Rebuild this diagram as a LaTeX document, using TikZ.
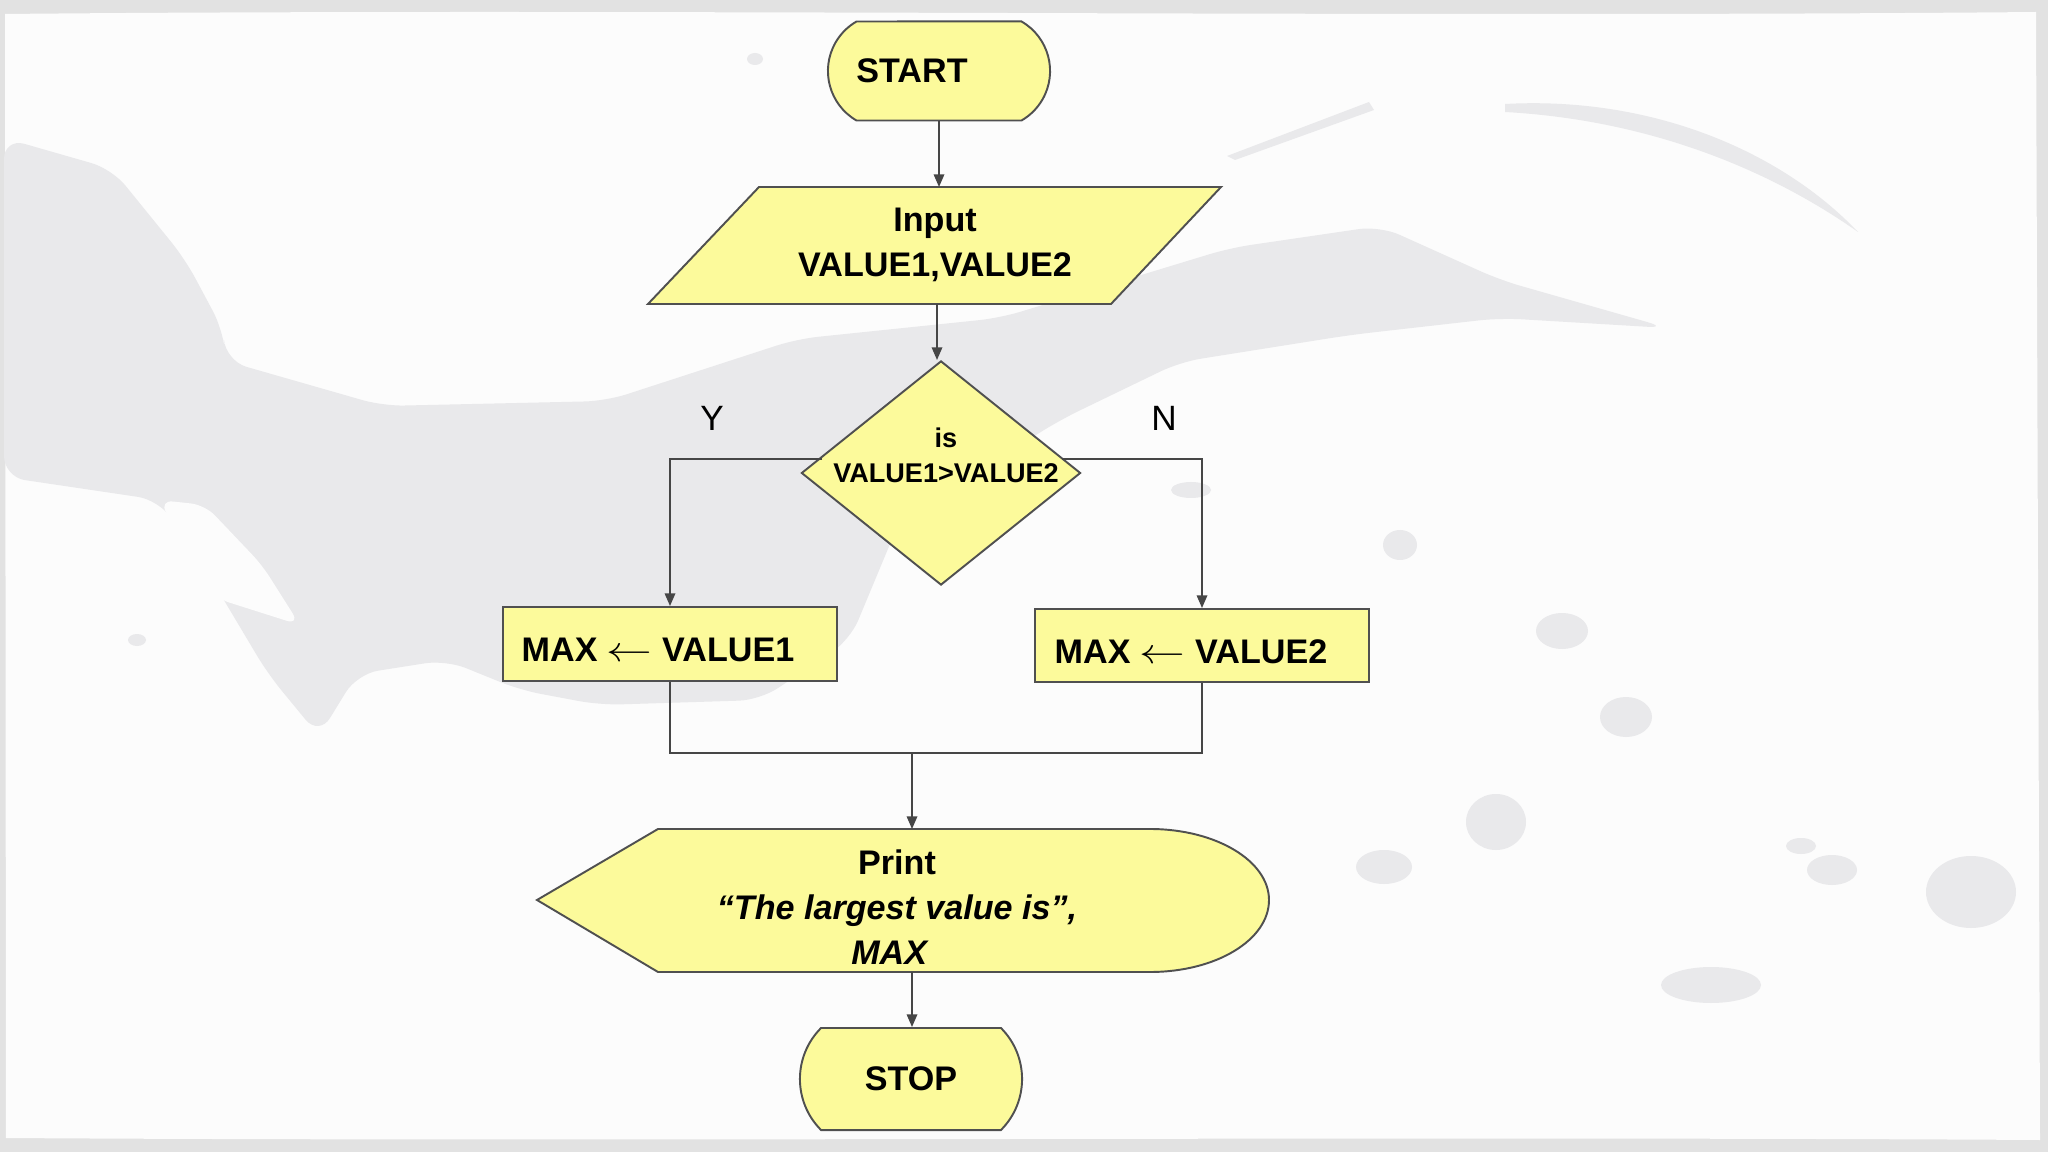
\documentclass[tikz,border=0pt]{standalone}
\usepackage{fontspec}
\usepackage{graphicx}
\setmainfont{Liberation Sans}
\usetikzlibrary{shapes.geometric,shapes.misc,arrows.meta}
\definecolor{fillY}{RGB}{252,250,155}
\definecolor{bord}{RGB}{80,80,80}
\definecolor{lnc}{RGB}{70,70,70}
\definecolor{bgw}{RGB}{252,252,252}
\definecolor{bgg}{RGB}{233,233,235}
\definecolor{frm}{RGB}{226,226,226}
\newcommand{\larr}{\scalebox{1.3}[1]{$\leftarrow$}}
\begin{document}
\begin{tikzpicture}[x=0.01cm,y=-0.01cm,
  shp/.style={draw=bord,fill=fillY,line width=0.55pt},
  term/.style={shp,rounded rectangle,inner sep=0pt},
  proc/.style={shp,rectangle,inner sep=0pt},
  txt/.style={inner sep=0pt,font=\fontsize{9.7}{12.8}\selectfont\bfseries,align=center},
  conn/.style={draw=lnc,line width=0.45pt,-{Triangle[length=3.6pt,width=3pt]}},
  plain/.style={draw=lnc,line width=0.45pt},
  lbl/.style={inner sep=0pt,font=\fontsize{10}{12}\selectfont},
  blob/.style={fill=bgg,draw=none}]

\useasboundingbox (0,0) rectangle (2048,1152);
% background and frame
\fill[frm] (0,0) rectangle (2048,1152);
\fill[bgw] (5,14) .. controls (600,8) and (1400,18) .. (2036,12) -- (2040,1140) .. controls (1400,1136) and (600,1142) .. (6,1138) -- cycle;

% brush strokes
\fill[blob, rounded corners=6pt] (4,138) -- (112,169) -- (185,259) -- (223,330) -- (226,361) -- (383,406) -- (606,401) -- (797,339) -- (1000,318) -- (1230,248) -- (1380,226) -- (1500,280) -- (1668,328) -- (1500,318) -- (1350,335) -- (1180,362) -- (1060,420) -- (900,520) -- (850,640) -- (760,700) -- (600,705) -- (520,690) -- (446,660) -- (357,674) -- (319,736) -- (268,674) -- (200,560) -- (159,500) -- (4,477) -- cycle;
\fill[bgw, rounded corners=4pt] (159,500) -- (205,505) -- (262,565) -- (300,625) -- (215,598) -- cycle;
\fill[blob] (1505,104) .. controls (1650,96) and (1780,150) .. (1858,232) .. controls (1770,170) and (1650,120) .. (1505,112) -- cycle;
\fill[blob] (1227,156) -- (1369,102) -- (1374,110) -- (1235,160) -- cycle;
\fill[blob] (1191,490) ellipse [x radius=20, y radius=8];
\fill[blob] (1400,545) ellipse [x radius=17, y radius=15];
\fill[blob] (1562,631) ellipse [x radius=26, y radius=18];
\fill[blob] (1626,717) ellipse [x radius=26, y radius=20];
\fill[blob] (1496,822) ellipse [x radius=30, y radius=28];
\fill[blob] (1384,867) ellipse [x radius=28, y radius=17];
\fill[blob] (1801,846) ellipse [x radius=15, y radius=8];
\fill[blob] (1832,870) ellipse [x radius=25, y radius=15];
\fill[blob] (1971,892) ellipse [x radius=45, y radius=36];
\fill[blob] (1711,985) ellipse [x radius=50, y radius=18];
\fill[blob] (755,59) ellipse [x radius=8, y radius=6];
\fill[blob] (137,640) ellipse [x radius=9, y radius=6];

% START
\node[term, rounded rectangle arc length=120, minimum width=2.22cm, minimum height=0.99cm] (start) at (939,71) {};
\node[txt] (starttx) at (912,71) {START};

% Input parallelogram
\draw[shp] (759,187) -- (1221,187) -- (1111,304) -- (648,304) -- cycle;
\node[txt] (input) at (935,245) {Input\\VALUE1,VALUE2};
\coordinate (inTop) at (939,187);
\coordinate (inBot) at (937,304);

% decision
\node[shp, diamond, minimum width=2.79cm, minimum height=2.24cm, inner sep=0pt] (dec) at (941,473) {};
\node[inner sep=0pt, font=\fontsize{7.7}{9.96}\selectfont\bfseries, align=center] (dectx) at (946,455) {is\\VALUE1>VALUE2};
\coordinate (yl) at (822,459);
\coordinate (nr) at (1062,459);
\node[lbl] (ylab) at (712,418) {Y};
\node[lbl] (nlab) at (1164,418) {N};

% process boxes
\node[proc, minimum width=3.33cm, minimum height=0.74cm] (b1) at (670,644) {};
\node[txt, anchor=west] (b1tx) at (521,650) {MAX \larr{} VALUE1};
\node[proc, minimum width=3.34cm, minimum height=0.73cm] (b2) at (1202,645.5) {};
\node[txt, anchor=west] (b2tx) at (1054,652) {MAX \larr{} VALUE2};
\coordinate (mg) at (912,753);

% display (print)
\draw[shp] (537,900) -- (658,829) -- (1150,829) .. controls (1216,829) and (1269,861) .. (1269,900) .. controls (1269,940) and (1216,972) .. (1150,972) -- (658,972) -- cycle;
\node[txt] (prt) at (897,907) {Print\\\textit{“The largest value is”,}\\\textit{MAX}\hspace*{0.14cm}};
\coordinate (prTop) at (912,829);
\coordinate (prBot) at (912,972);

% STOP
\node[term, rounded rectangle arc length=90, minimum width=2.22cm, minimum height=1.02cm, font=\fontsize{9.7}{12.8}\selectfont\bfseries] (stop) at (911,1079) {STOP};

% connectors
\draw[conn] (start) -- (inTop);
\draw[conn] (inBot) -- (inBot |- dec.north);
\draw[conn] (yl) -| (b1.north);
\draw[conn] (nr) -| (b2.north);
\draw[plain] (b1) -- (b1.south |- mg) -- (b2.south |- mg) -- (b2);
\draw[conn] (mg) -- (prTop);
\draw[conn] (prBot) -- (prBot |- stop.north);
\end{tikzpicture}
\end{document}
